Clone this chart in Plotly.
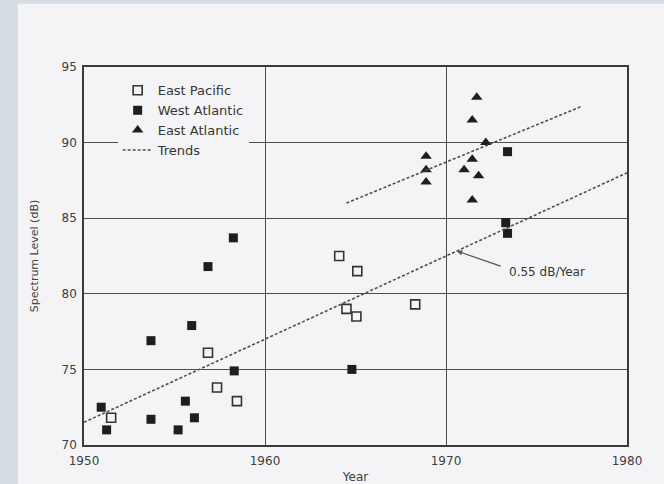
import plotly.graph_objects as go

# ---- data ----
ep_year = [1951.5, 1956.85, 1957.35, 1958.45, 1964.1, 1965.1, 1964.5, 1965.05, 1968.3]
ep_level = [71.8, 76.1, 73.8, 72.9, 82.5, 81.5, 79.0, 78.5, 79.3]

wa_year = [1950.95, 1951.25, 1953.7, 1953.7, 1955.2, 1955.6, 1955.95, 1956.1, 1956.85,
           1958.25, 1958.3, 1964.8, 1973.3, 1973.4, 1973.4]
wa_level = [72.5, 71.0, 76.9, 71.7, 71.0, 72.9, 77.9, 71.8, 81.8,
            83.7, 74.9, 75.0, 84.7, 84.0, 89.4]

ea_year = [1971.7, 1971.45, 1972.2, 1968.9, 1968.9, 1968.9, 1971.45, 1971.0, 1971.8, 1971.45]
ea_level = [93.0, 91.5, 90.0, 89.1, 88.2, 87.4, 88.9, 88.2, 87.8, 86.2]

trend_low_year = [1950, 1980]
trend_low_level = [71.5, 88.0]
trend_high_year = [1964.5, 1977.5]
trend_high_level = [86.0, 92.4]

slope_label = "0.55 dB/Year"
x_ticks = [1950, 1960, 1970, 1980]
y_ticks = [70, 75, 80, 85, 90, 95]

INK = "#1e1e1e"
TXT = "#404040"
GRID = "#4d4d4d"
FONT = "DejaVu Sans, Verdana, sans-serif"

fig = go.Figure()

fig.add_trace(go.Scatter(
    x=ep_year, y=ep_level, mode="markers", name="East Pacific",
    marker=dict(symbol="square-open", size=9, color="#333333", line=dict(width=1.6, color="#333333")),
))
fig.add_trace(go.Scatter(
    x=wa_year, y=wa_level, mode="markers", name="West Atlantic",
    marker=dict(symbol="square", size=9, color=INK, line=dict(width=0)),
))
fig.add_trace(go.Scatter(
    x=ea_year, y=ea_level, mode="markers", name="East Atlantic",
    marker=dict(symbol="triangle-up", size=10, color=INK, line=dict(width=0)),
))
fig.add_trace(go.Scatter(
    x=trend_low_year + [None] + trend_high_year,
    y=trend_low_level + [None] + trend_high_level,
    mode="lines", name="Trends",
    line=dict(color="#505050", width=1.6, dash="3px,2px"),
))

# arrow pointing at the lower trend line
fig.add_annotation(
    x=1970.6, y=71.5 + 0.55 * 20.6, ax=1973.1, ay=81.8,
    xref="x", yref="y", axref="x", ayref="y",
    text="", showarrow=True, arrowhead=2, arrowsize=0.9, arrowwidth=1.2, arrowcolor="#555555",
)
fig.add_annotation(
    x=1973.35, y=81.45, xref="x", yref="y", text=slope_label, showarrow=False,
    xanchor="left", yanchor="middle", font=dict(family=FONT, size=12, color="#363636"),
)

# paper sheet (scanned page) over a blue-grey backdrop
fig.add_shape(type="rect", xref="paper", yref="paper",
              x0=-0.1215, x1=1.3, y0=-0.3, y1=1.167,
              fillcolor="#f4f4f6", line=dict(width=0), layer="below")

fig.update_layout(
    width=664, height=484,
    margin=dict(l=84, r=37, t=67, b=39, autoexpand=False),
    paper_bgcolor="#d5dce4",
    plot_bgcolor="rgba(0,0,0,0)",
    font=dict(family=FONT, size=12, color=TXT),
    showlegend=True,
    legend=dict(
        x=0.062, y=0.978, xanchor="left", yanchor="top",
        bgcolor="#f4f4f6", borderwidth=0, tracegroupgap=0,
        font=dict(family=FONT, size=13, color="#363636"),
    ),
)

fig.update_xaxes(
    range=[1950, 1980], tickvals=x_ticks, ticktext=[str(v) for v in x_ticks],
    showgrid=True, gridcolor=GRID, gridwidth=1.2,
    showline=True, linecolor="#3a3a3a", linewidth=1.6, mirror=True,
    ticks="", zeroline=False, ticklabelstandoff=4, automargin=False,
    tickfont=dict(family=FONT, size=12, color=TXT),
    title=dict(text="Year", standoff=6, font=dict(family=FONT, size=12, color=TXT)),
)
fig.update_yaxes(
    range=[70, 95], tickvals=y_ticks, ticktext=[str(v) for v in y_ticks],
    showgrid=True, gridcolor=GRID, gridwidth=1.2,
    showline=True, linecolor="#3a3a3a", linewidth=1.6, mirror=True,
    ticks="", zeroline=False, ticklabelstandoff=3, automargin=False,
    tickfont=dict(family=FONT, size=12, color=TXT),
    title=dict(text="Spectrum Level (dB)", standoff=21, font=dict(family=FONT, size=11, color=TXT)),
)

fig.write_html("out.html")
